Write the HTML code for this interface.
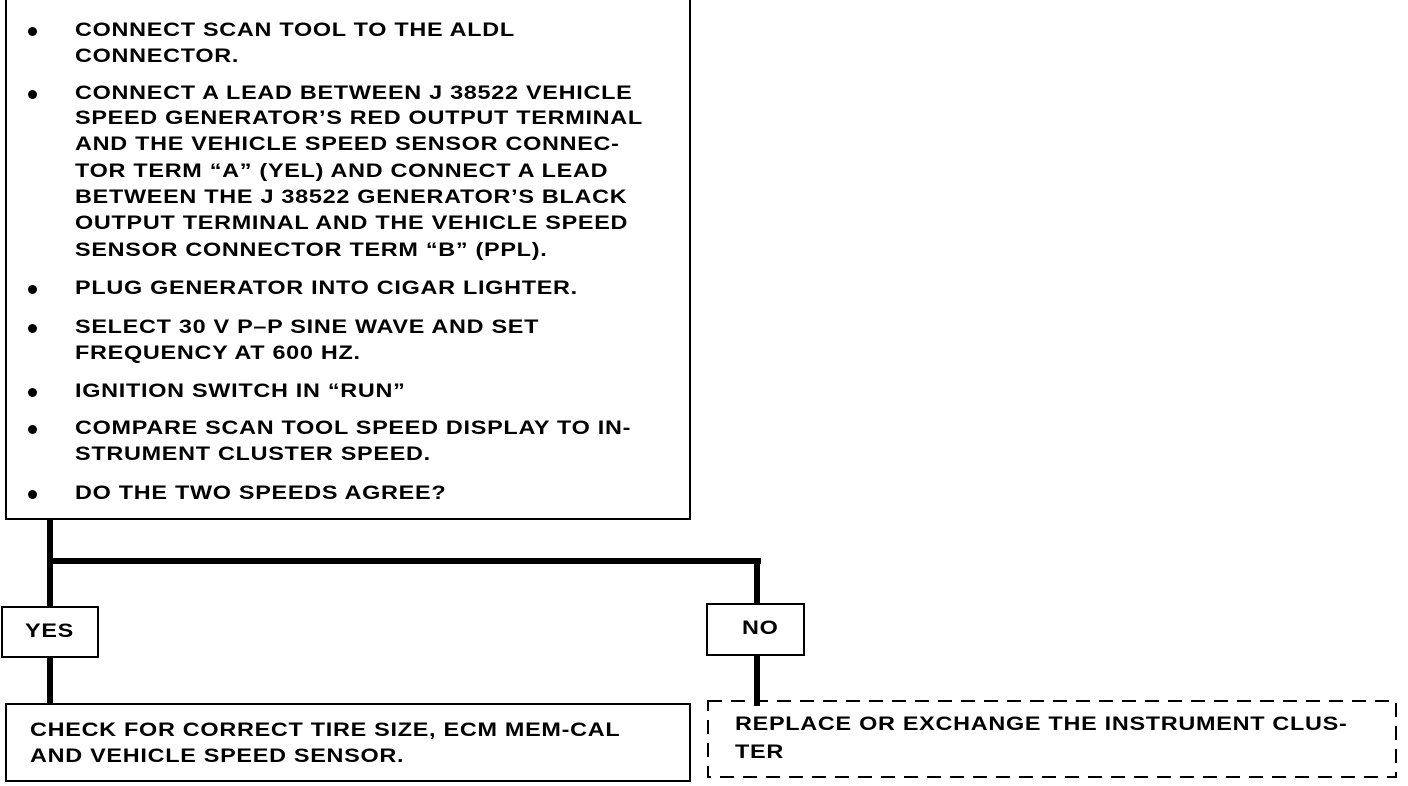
<!DOCTYPE html>
<html><head><meta charset="utf-8"><style>
body{margin:0;width:1408px;height:786px;background:#fff;position:relative;overflow:hidden;font-family:"Liberation Sans",Arial,sans-serif;font-weight:bold;color:#000}
.b{position:absolute;border:2px solid #000;box-sizing:border-box}
.t{position:absolute;font-size:19.5px;letter-spacing:0.6px;white-space:nowrap;line-height:20px;transform:scaleX(1.2);transform-origin:0 0}
.d{position:absolute;width:9px;height:9px;border-radius:50%;background:#000;left:28px}
.l{position:absolute;background:#000}
</style></head><body>
<div class="b" style="left:5px;top:-2px;width:686px;height:522px"></div>
<div class="d" style="top:27px"></div>
<div class="t" style="left:75px;top:20px">CONNECT SCAN TOOL TO THE ALDL</div>
<div class="t" style="left:75px;top:46px">CONNECTOR.</div>
<div class="d" style="top:90px"></div>
<div class="t" style="left:75px;top:83px">CONNECT A LEAD BETWEEN J 38522 VEHICLE</div>
<div class="t" style="left:75px;top:108px">SPEED GENERATOR’S RED OUTPUT TERMINAL</div>
<div class="t" style="left:75px;top:134px">AND THE VEHICLE SPEED SENSOR CONNEC-</div>
<div class="t" style="left:75px;top:161px">TOR TERM “A” (YEL) AND CONNECT A LEAD</div>
<div class="t" style="left:75px;top:187px">BETWEEN THE J 38522 GENERATOR’S BLACK</div>
<div class="t" style="left:75px;top:213px">OUTPUT TERMINAL AND THE VEHICLE SPEED</div>
<div class="t" style="left:75px;top:240px">SENSOR CONNECTOR TERM “B” (PPL).</div>
<div class="d" style="top:285px"></div>
<div class="t" style="left:75px;top:278px">PLUG GENERATOR INTO CIGAR LIGHTER.</div>
<div class="d" style="top:324px"></div>
<div class="t" style="left:75px;top:317px">SELECT 30 V P–P SINE WAVE AND SET</div>
<div class="t" style="left:75px;top:343px">FREQUENCY AT 600 HZ.</div>
<div class="d" style="top:388px"></div>
<div class="t" style="left:75px;top:381px">IGNITION SWITCH IN “RUN”</div>
<div class="d" style="top:425px"></div>
<div class="t" style="left:75px;top:418px">COMPARE SCAN TOOL SPEED DISPLAY TO IN-</div>
<div class="t" style="left:75px;top:444px">STRUMENT CLUSTER SPEED.</div>
<div class="d" style="top:490px"></div>
<div class="t" style="left:75px;top:483px">DO THE TWO SPEEDS AGREE?</div>

<div class="l" style="left:47px;top:519px;width:6px;height:186px"></div>
<div class="l" style="left:47px;top:558px;width:714px;height:6px"></div>
<div class="l" style="left:754px;top:558px;width:6px;height:148px"></div>

<div class="b" style="left:1px;top:606px;width:98px;height:52px;background:#fff"></div>
<div class="t" style="left:25px;top:621px">YES</div>
<div class="b" style="left:706px;top:603px;width:99px;height:53px;background:#fff"></div>
<div class="t" style="left:742px;top:618px">NO</div>

<div class="b" style="left:5px;top:703px;width:686px;height:79px"></div>
<div class="t" style="left:30px;top:720px">CHECK FOR CORRECT TIRE SIZE, ECM MEM-CAL</div>
<div class="t" style="left:30px;top:746px">AND VEHICLE SPEED SENSOR.</div>

<svg style="position:absolute;left:0;top:0" width="1408" height="786">
<rect x="708" y="701" width="688" height="76" fill="none" stroke="#000" stroke-width="2" stroke-dasharray="14 9"/>
</svg>
<div class="t" style="left:735px;top:714px">REPLACE OR EXCHANGE THE INSTRUMENT CLUS-</div>
<div class="t" style="left:735px;top:742px">TER</div>
</body></html>
